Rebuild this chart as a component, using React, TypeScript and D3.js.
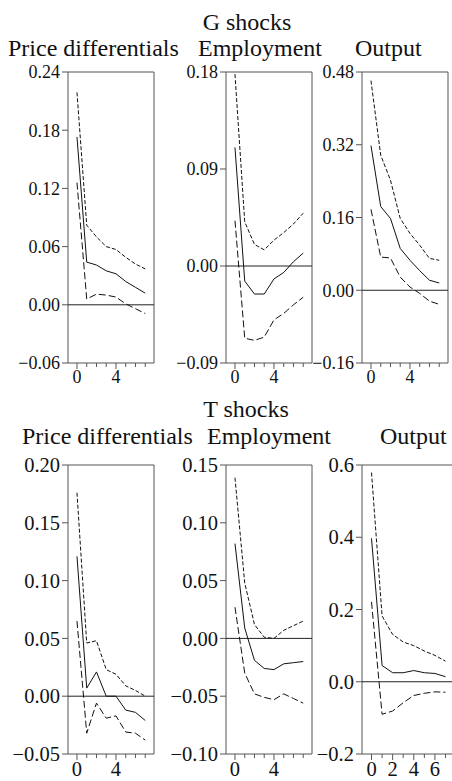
import React from "react";
import * as d3 from "d3";

const steps = [0, 1, 2, 3, 4, 5, 6, 7];

const gPriceMid = [0.173, 0.044, 0.041, 0.035, 0.032, 0.024, 0.018, 0.012];
const gPriceUp = [0.219, 0.082, 0.070, 0.060, 0.057, 0.049, 0.042, 0.037];
const gPriceLo = [0.126, 0.006, 0.011, 0.010, 0.008, 0.001, -0.004, -0.009];

const gEmpMid = [0.110, -0.014, -0.026, -0.026, -0.012, -0.006, 0.004, 0.012];
const gEmpUp = [0.178, 0.041, 0.020, 0.015, 0.024, 0.031, 0.039, 0.049];
const gEmpLo = [0.042, -0.067, -0.069, -0.066, -0.050, -0.044, -0.036, -0.029];

const gOutMid = [0.318, 0.184, 0.158, 0.092, 0.066, 0.043, 0.022, 0.016];
const gOutUp = [0.461, 0.297, 0.242, 0.158, 0.125, 0.099, 0.070, 0.066];
const gOutLo = [0.178, 0.073, 0.071, 0.029, 0.007, -0.007, -0.024, -0.031];

const tPriceMid = [0.121, 0.007, 0.021, 0.000, 0.000, -0.012, -0.014, -0.021];
const tPriceUp = [0.176, 0.046, 0.048, 0.023, 0.019, 0.009, 0.005, 0.000];
const tPriceLo = [0.065, -0.032, -0.006, -0.019, -0.017, -0.031, -0.032, -0.038];

const tEmpMid = [0.082, 0.009, -0.019, -0.026, -0.027, -0.022, -0.021, -0.020];
const tEmpUp = [0.139, 0.048, 0.012, 0.001, 0.000, 0.007, 0.011, 0.015];
const tEmpLo = [0.027, -0.030, -0.048, -0.051, -0.053, -0.048, -0.052, -0.056];

const tOutMid = [0.397, 0.045, 0.025, 0.025, 0.031, 0.025, 0.023, 0.014];
const tOutUp = [0.579, 0.182, 0.131, 0.110, 0.100, 0.085, 0.073, 0.057];
const tOutLo = [0.221, -0.090, -0.081, -0.058, -0.038, -0.032, -0.028, -0.029];

const gPriceTicks = [-0.06, 0, 0.06, 0.12, 0.18, 0.24];
const gEmpTicks = [-0.09, 0, 0.09, 0.18];
const gOutTicks = [-0.16, 0, 0.16, 0.32, 0.48];
const tPriceTicks = [-0.05, 0, 0.05, 0.1, 0.15, 0.2];
const tEmpTicks = [-0.1, -0.05, 0, 0.05, 0.1, 0.15];
const tOutTicks = [-0.2, 0, 0.2, 0.4, 0.6];

const xLabelsA = [0, 4];
const xLabelsB = [0, 2, 4, 6];

const rowTitles = ["G shocks", "T shocks"];
const colTitles = ["Price differentials", "Employment", "Output"];

const FONT = "'Liberation Serif', 'Times New Roman', serif";

type PanelProps = {
  left: number; right: number; top: number; bottom: number;
  xDom: [number, number];
  mid: number[]; up: number[]; lo: number[];
  yTicks: number[]; fmt: string; xLabels: number[]; fontSize: number; xLabelY: number;
};

function Panel(p: PanelProps) {
  const x = d3.scaleLinear().domain(p.xDom).range([p.left, p.right]);
  const yd = d3.extent(p.yTicks) as [number, number];
  const y = d3.scaleLinear().domain(yd).range([p.bottom, p.top]);
  const line = d3.line<number>().x((_, i) => x(steps[i])).y((v) => y(v));
  const f = d3.format(p.fmt);
  const lab = (v: number) => f(v).replace("-", "\u2212");
  const axisColor = "#555";
  return (
    <g>
      <path d={`M${p.left},${p.bottom}V${p.top}H${p.right}V${p.bottom}`} fill="none" stroke={axisColor} strokeWidth={1} />
      <line x1={p.left} x2={p.right} y1={p.bottom} y2={p.bottom} stroke={axisColor} strokeWidth={1} />
      <line x1={p.left} x2={p.right} y1={y(0)} y2={y(0)} stroke="#222" strokeWidth={1} />
      {p.yTicks.map((t) => (
        <g key={t}>
          <line x1={p.left - 6} x2={p.left} y1={y(t)} y2={y(t)} stroke={axisColor} />
          <text x={p.left - 8} y={y(t)} dy="0.35em" textAnchor="end" fontSize={p.fontSize} fontFamily={FONT} fill="#111">{lab(t)}</text>
        </g>
      ))}
      {steps.map((s) => {
        const major = p.xLabels.includes(s);
        return <line key={s} x1={x(s)} x2={x(s)} y1={p.bottom} y2={p.bottom + (major ? 6 : 4)} stroke={axisColor} />;
      })}
      {p.xLabels.map((s) => (
        <text key={s} x={x(s)} y={p.xLabelY} textAnchor="middle" fontSize={p.fontSize} fontFamily={FONT} fill="#111">{s}</text>
      ))}
      <path d={line(p.up) || ""} fill="none" stroke="#111" strokeWidth={1} strokeDasharray="4,2" />
      <path d={line(p.lo) || ""} fill="none" stroke="#111" strokeWidth={1} strokeDasharray="7,3" />
      <path d={line(p.mid) || ""} fill="none" stroke="#111" strokeWidth={1} />
    </g>
  );
}

export default function App() {
  const xDomA: [number, number] = [-0.92, 7.9];
  const top = { top: 72, bottom: 363 };
  const bot = { top: 465, bottom: 754 };
  return (
    <svg width={452} height={781} style={{ position: "absolute", left: 0, top: 0, background: "#fff" }}>
      <rect width={452} height={781} fill="#fff" />
      <text x={247} y={30} textAnchor="middle" fontSize={24} fontFamily={FONT} fill="#111">{rowTitles[0]}</text>
      <text x={8} y={56} fontSize={24} fontFamily={FONT} fill="#111">{colTitles[0]}</text>
      <text x={198} y={56} fontSize={24} fontFamily={FONT} fill="#111">{colTitles[1]}</text>
      <text x={355} y={56} fontSize={24} fontFamily={FONT} fill="#111">{colTitles[2]}</text>

      <text x={246} y={417} textAnchor="middle" fontSize={24} fontFamily={FONT} fill="#111">{rowTitles[1]}</text>
      <text x={22} y={444} fontSize={24} fontFamily={FONT} fill="#111">{colTitles[0]}</text>
      <text x={207} y={444} fontSize={24} fontFamily={FONT} fill="#111">{colTitles[1]}</text>
      <text x={380} y={444} fontSize={24} fontFamily={FONT} fill="#111">{colTitles[2]}</text>

      <Panel left={68} right={154} {...top} xDom={xDomA} mid={gPriceMid} up={gPriceUp} lo={gPriceLo} yTicks={gPriceTicks} fmt=".2f" xLabels={xLabelsA} fontSize={18} xLabelY={383} />
      <Panel left={226} right={312} {...top} xDom={xDomA} mid={gEmpMid} up={gEmpUp} lo={gEmpLo} yTicks={gEmpTicks} fmt=".2f" xLabels={xLabelsA} fontSize={18} xLabelY={383} />
      <Panel left={362} right={448} {...top} xDom={xDomA} mid={gOutMid} up={gOutUp} lo={gOutLo} yTicks={gOutTicks} fmt=".2f" xLabels={xLabelsA} fontSize={18} xLabelY={383} />

      <Panel left={68} right={154} {...bot} xDom={xDomA} mid={tPriceMid} up={tPriceUp} lo={tPriceLo} yTicks={tPriceTicks} fmt=".2f" xLabels={xLabelsA} fontSize={20.5} xLabelY={776} />
      <Panel left={226} right={312} {...bot} xDom={xDomA} mid={tEmpMid} up={tEmpUp} lo={tEmpLo} yTicks={tEmpTicks} fmt=".2f" xLabels={xLabelsA} fontSize={20.5} xLabelY={776} />
      <Panel left={362} right={455} {...bot} xDom={[-0.9, 7.9]} mid={tOutMid} up={tOutUp} lo={tOutLo} yTicks={tOutTicks} fmt=".1f" xLabels={xLabelsB} fontSize={20.5} xLabelY={776} />
    </svg>
  );
}
